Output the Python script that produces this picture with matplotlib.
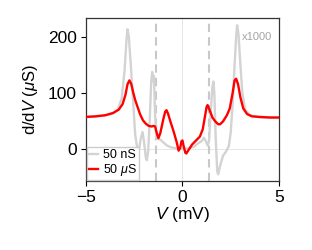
import matplotlib
matplotlib.use("Agg")
import matplotlib.pyplot as plt

plt.rcParams['font.family'] = ['Liberation Sans', 'DejaVu Sans']
plt.rcParams['mathtext.fontset'] = 'custom'
plt.rcParams['mathtext.rm'] = 'Liberation Sans'
plt.rcParams['mathtext.it'] = 'Liberation Sans:italic'

# 50 µS curve (red)
v_red = [-5.0, -4.5, -4.0, -3.6, -3.3, -3.1, -2.95, -2.85, -2.75, -2.65, -2.55, -2.45,
         -2.3, -2.2, -2.05, -1.9, -1.75, -1.6, -1.5, -1.42, -1.33, -1.25, -1.15, -1.0,
         -0.9, -0.83, -0.75, -0.6, -0.45, -0.3, -0.2, -0.12, -0.05, 0.0, 0.06, 0.15,
         0.2, 0.35, 0.5, 0.7, 0.9, 1.05, 1.15, 1.25, 1.3, 1.4, 1.55, 1.7, 1.85, 1.95,
         2.1, 2.3, 2.45, 2.6, 2.7, 2.78, 2.88, 3.0, 3.15, 3.35, 3.6, 4.0, 4.5, 5.0]
g_red = [57, 58, 60, 64, 70, 80, 97, 115, 122, 115, 100, 87,
         72, 62, 51, 45, 41, 40, 41, 40, 28, 19, 28, 52,
         66, 69, 63, 46, 30, 12, -3, 2, 14, 15, 5, -7,
         -8, 0, 8, 15, 22, 35, 55, 75, 78, 70, 56, 49, 44, 44,
         49, 60, 72, 100, 122, 125, 115, 92, 72, 62, 58, 57, 56, 56]

# 50 nS curve (gray, x1000)
v_gray = [-5.0, -4.5, -4.0, -3.6, -3.35, -3.15, -3.0, -2.9, -2.85, -2.78, -2.68, -2.55,
          -2.45, -2.35, -2.25, -2.15, -2.07, -2.0, -1.9, -1.85, -1.78, -1.7, -1.62, -1.57,
          -1.52, -1.48, -1.42, -1.35, -1.2, -1.0, -0.8, -0.6, -0.3, 0.0, 0.3, 0.6,
          0.8, 1.0, 1.1, 1.2, 1.3, 1.38, 1.45, 1.55, 1.6, 1.65, 1.72, 1.8, 1.85, 1.95,
          2.1, 2.25, 2.4, 2.5, 2.6, 2.7, 2.78, 2.83, 2.9, 3.0, 3.1, 3.25, 3.5, 4.0, 4.5, 5.0]
g_gray = [57, 58, 60, 63, 70, 90, 140, 195, 213, 200, 150, 80,
          25, 3, 0, 20, 30, 15, -15, -20, -5, 50, 120, 137,
          120, 130, 60, 20, 18, 12, 6, 3, 1, 0, 1, 4,
          10, 14, 20, 15, 6, 15, 60, 110, 120, 100, 20, -40, -45, -30,
          -12, -5, 5, 30, 80, 150, 200, 220, 205, 150, 100, 70, 60, 56, 56, 55]

gap_lines = [-1.37, 1.37]
labels = ["50 nS", "50 $\\mu$S"]

fig = plt.figure(figsize=(3.12, 2.5), dpi=100)
ax = fig.add_axes([0.2756, 0.276, 0.6186, 0.652])

ax.axhline(0, color='#e6e6e6', lw=0.7, zorder=0)
ax.axvline(0, color='#e6e6e6', lw=0.7, zorder=0)
for g in gap_lines:
    ax.axvline(g, color='#c8c8c8', lw=1.5, ls=(0, (4, 2.5)), zorder=1)

ax.plot(v_gray, g_gray, color='#d3d3d3', lw=1.7, label=labels[0], zorder=2)
ax.plot(v_red, g_red, color='#ff0000', lw=1.7, label=labels[1], zorder=3)

ax.text(3.1, 200, "x1000", color='#a8a2a8', fontsize=8, va='center', ha='left')

ax.set_xlim(-5, 5)
ax.set_ylim(-57, 233)
ax.set_xticks([-5, 0, 5])
ax.set_yticks([0, 100, 200])
ax.set_xticklabels(["\u22125", "0", "5"])
ax.tick_params(labelsize=12.5, length=3.5, width=0.8, pad=3)
ax.set_xlabel("$V$ (mV)", fontsize=12.5, labelpad=0)
ax.set_ylabel("d/d$V$ ($\\mu$S)", fontsize=12, labelpad=6)
for s in ax.spines.values():
    s.set_color('#333333')
    s.set_linewidth(0.9)

leg = ax.legend(loc='lower left', fontsize=9, handlelength=0.7, handletextpad=0.4,
                borderpad=0.15, labelspacing=0.05, borderaxespad=0.1, frameon=True,
                fancybox=False, edgecolor='#cccccc', framealpha=1)

fig.savefig("out.png", dpi=100)
